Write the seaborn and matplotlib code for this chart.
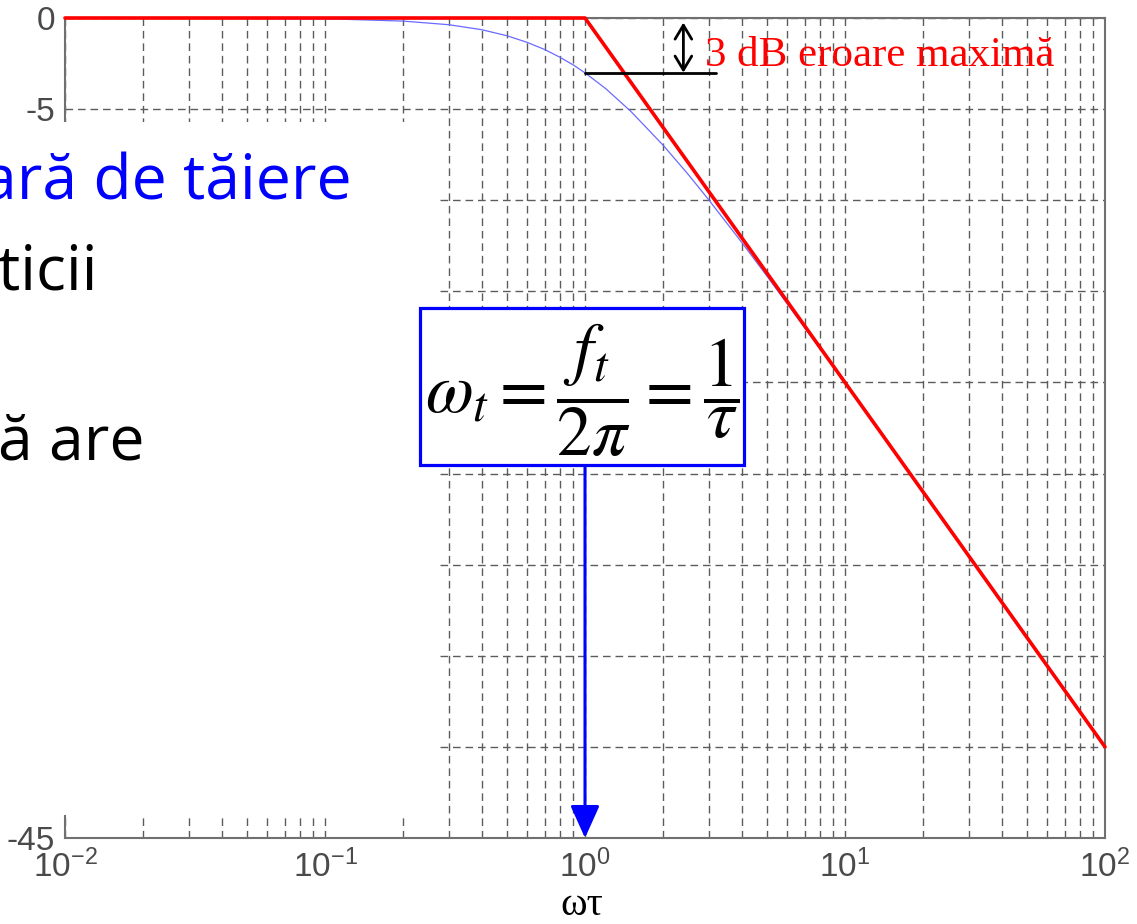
import numpy as np
import pandas as pd
import matplotlib
matplotlib.use("Agg")
import matplotlib.pyplot as plt
from matplotlib.patches import Rectangle, FancyArrowPatch
import seaborn as sns

# Normalised frequency (omega*tau) and magnitude of the first-order low-pass, in dB
omega_tau = [0.01, 0.1, 0.2, 0.3, 0.4, 0.5, 0.6, 0.7, 0.8, 0.9, 1.0, 1.2, 1.5,
             2.0, 2.5, 3.0, 4.0, 5.0, 7.0, 10.0, 20.0, 50.0, 100.0]
gain_db = [0.0, -0.04, -0.17, -0.37, -0.64, -0.97, -1.34, -1.73, -2.15, -2.57,
           -3.01, -3.87, -5.12, -6.99, -8.60, -10.0, -12.3, -14.15, -17.0,
           -20.04, -26.0, -34.0, -40.0]

# Straight-line (asymptotic) approximation
asym_w = [0.01, 1.0, 100.0]
asym_db = [0.0, 0.0, -40.0]

xtick_vals = [1e-2, 1e-1, 1e0, 1e1, 1e2]
xtick_labels = ["$10^{-2}$", "$10^{-1}$", "$10^{0}$", "$10^{1}$", "$10^{2}$"]
ytick_vals = [0, -5, -10, -15, -20, -25, -30, -35, -40, -45]
# only the labels left uncovered by the slide panel are written out
ytick_labels = ["0", "-5", "", "", "", "", "", "", "", "-45"]

W, H = 1137, 924
sns.set_style("white")
plt.rcParams["font.family"] = ["Liberation Sans", "DejaVu Sans"]
plt.rcParams["mathtext.fontset"] = "custom"
plt.rcParams["mathtext.rm"] = "Liberation Sans"
plt.rcParams["mathtext.it"] = "Liberation Sans:italic"

fig = plt.figure(figsize=(W / 100, H / 100), dpi=100)
fig.patch.set_facecolor("white")


def fx(px):
    return px / W


def fy(py):
    return 1 - py / H


ax = fig.add_axes([fx(65), fy(838), fx(1105) - fx(65), fy(18) - fy(838)])
ax.set_facecolor("white")

exact = pd.DataFrame({"w": omega_tau, "db": gain_db})
asym = pd.DataFrame({"w": asym_w, "db": asym_db})

sns.lineplot(data=exact, x="w", y="db", ax=ax, color="#6a6aff", lw=0.9,
             zorder=3, sort=False)
sns.lineplot(data=asym, x="w", y="db", ax=ax, color="#ff0000", lw=2.6,
             zorder=4, sort=False, clip_on=False)

ax.set_xscale("log")
ax.set_xlim(1e-2, 1e2)
ax.set_ylim(-45, 0)
ax.set_xticks(xtick_vals)
ax.set_xticklabels(xtick_labels)
ax.set_yticks(ytick_vals)
ax.set_yticklabels(ytick_labels)
ax.set_xlabel("")
ax.set_ylabel("")

grid_kw = dict(color="#5c5c5c", lw=1.0, ls=(0, (5.5, 3.5)))
ax.grid(True, which="major", axis="both", **grid_kw)
ax.grid(True, which="minor", axis="x", **grid_kw)
ax.tick_params(axis="both", which="both", length=0, labelsize=24,
               labelcolor="#4a4a4a")
ax.tick_params(axis="x", pad=8)
ax.tick_params(axis="y", pad=7)
for s in ax.spines.values():
    s.set_color("#707070")
    s.set_linewidth(1.5)
    s.set_visible(True)

# 3 dB error marker at the corner frequency
ax.plot([1.0, 3.2], [-3.0, -3.0], color="black", lw=2.0, zorder=5)
ax.add_patch(FancyArrowPatch((2.39, -0.25), (2.39, -3.0),
                             arrowstyle="<->,head_length=0.5,head_width=0.3",
                             mutation_scale=20, color="black", lw=2.0,
                             zorder=6, shrinkA=0, shrinkB=0))
fig.text(fx(705), fy(66), "3 dB eroare maximă", color="#ff0000",
         fontsize=31, family=["Liberation Serif"], ha="left",
         va="baseline", zorder=7)

# Arrow from the definition box down to the corner frequency
box_bottom_db = -(466 - 18) / (820 / 45)
ax.add_patch(FancyArrowPatch((1.0, box_bottom_db), (1.0, -45.0),
                             arrowstyle="-|>,head_length=1.0,head_width=0.45",
                             mutation_scale=20, color="#0000ff", lw=2.2,
                             zorder=6, shrinkA=0, shrinkB=0, clip_on=False))

fig.text(fx(582), fy(915), "ωτ", ha="center", va="baseline",
         fontsize=29, family=["Liberation Serif", "DejaVu Serif"],
         color="black")

# Slide panel overlapping the left part of the plot
fig.patches.append(Rectangle((0, fy(815)), fx(437), fy(122) - fy(815),
                             transform=fig.transFigure, fc="white",
                             ec="none", zorder=5))
slide_font = ["Open Sans", "DejaVu Sans"]
fig.text(fx(352), fy(200), "ară de tăiere", color="#0000ff", fontsize=45,
         family=slide_font, ha="right", va="baseline", zorder=6)
fig.text(fx(-2), fy(290), "ticii", color="black", fontsize=45,
         family=slide_font, ha="left", va="baseline", zorder=6)
fig.text(fx(-2), fy(460), "ă are", color="black", fontsize=45,
         family=slide_font, ha="left", va="baseline", zorder=6)

# Corner-frequency definition box
fig.patches.append(Rectangle((fx(420), fy(465)), fx(744) - fx(420),
                             fy(308) - fy(465), transform=fig.transFigure,
                             fc="white", ec="#0000ff", lw=2.3, zorder=8))
fig.text(fx(582), fy(390),
         r"$\omega_t = \dfrac{f_t}{2\pi} = \dfrac{1}{\tau}$",
         math_fontfamily="stix", fontsize=50, color="black",
         ha="center", va="center", zorder=9)

fig.savefig("out.png", dpi=100, facecolor="white")
